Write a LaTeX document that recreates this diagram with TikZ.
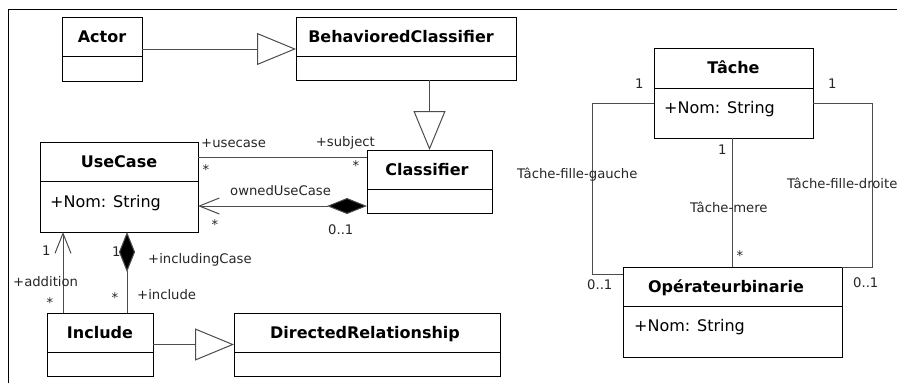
\documentclass[tikz,border=0pt]{standalone}
\usepackage{fontspec}
\setmainfont{DejaVu Sans}
\usetikzlibrary{arrows.meta}

\tikzset{
  klass/.style={draw=black, line width=1pt, inner sep=0pt, outer sep=0pt, fill=white},
  divider/.style={draw=black, line width=1pt},
  ktitle/.style={inner sep=0pt, anchor=base, font=\fontsize{16}{19}\selectfont\bfseries},
  kattr/.style={inner sep=0pt, anchor=base west, font=\fontsize{16}{19}\selectfont},
  role/.style={inner sep=0pt, anchor=base west, text=black!85, font=\fontsize{13.2}{15}\selectfont},
  mult/.style={inner sep=0pt, anchor=base, text=black!85, font=\fontsize{13.2}{15}\selectfont},
  link/.style={draw=black!70, line width=1pt},
  generalize/.style={link, -{Triangle[open, length=39pt, width=32pt, fill=white]}},
  barbtip/.tip={Straight Barb[length=20pt, width=16pt]},
  diamondtip/.tip={Diamond[length=40pt, width=16pt, fill=black]},
}

\begin{document}
\begin{tikzpicture}[x=1pt, y=-1pt]
\useasboundingbox (0,0) rectangle (897,383);
\fill[white] (0,0) rectangle (897,383);

% frame
\draw[black, line width=1pt] (8,383) -- (8,9) -- (897,9);

% classes
\node[klass, minimum width=80pt, minimum height=64pt] (actor) at (102,49) {};
\draw[divider] (actor.west |- 0,56) -- (actor.east |- 0,56);
\node[ktitle] (actorT) at (102,42.3) {Actor};

\node[klass, minimum width=220pt, minimum height=63pt] (bc) at (406,48.5) {};
\draw[divider] (bc.west |- 0,56) -- (bc.east |- 0,56);
\node[ktitle] (bcT) at (401,42.3) {BehavioredClassifier};

\node[klass, minimum width=158pt, minimum height=90pt] (uc) at (119,187) {};
\draw[divider] (uc.west |- 0,181) -- (uc.east |- 0,181);
\node[ktitle] (ucT) at (119,167.3) {UseCase};
\node[kattr] (ucA) at (50,207.8) {+Nom: String};

\node[klass, minimum width=125pt, minimum height=63pt] (cl) at (429.5,181.5) {};
\draw[divider] (cl.west |- 0,189) -- (cl.east |- 0,189);
\node[ktitle] (clT) at (427,175.3) {Classifier};

\node[klass, minimum width=106pt, minimum height=63pt] (inc) at (100,344.5) {};
\draw[divider] (inc.west |- 0,352) -- (inc.east |- 0,352);
\node[ktitle] (incT) at (100,338.3) {Include};

\node[klass, minimum width=266pt, minimum height=63pt] (dr) at (367,344.5) {};
\draw[divider] (dr.west |- 0,352) -- (dr.east |- 0,352);
\node[ktitle] (drT) at (365,338.3) {DirectedRelationship};

\node[klass, minimum width=159pt, minimum height=90pt] (tache) at (733.5,93) {};
\draw[divider] (tache.west |- 0,88) -- (tache.east |- 0,88);
\node[ktitle] (tacheT) at (733.5,73.8) {Tâche};
\node[kattr] (tacheA) at (664,113.8) {+Nom: String};

\node[klass, minimum width=219pt, minimum height=90pt] (op) at (732.5,312) {};
\draw[divider] (op.west |- 0,306) -- (op.east |- 0,306);
\node[ktitle] (opT) at (726,292.3) {Opérateurbinarie};
\node[kattr] (opA) at (634,331.8) {+Nom: String};

% generalizations
\draw[generalize] (actor.east) -- (bc.west |- actor.east);
\draw[generalize] (cl.north |- bc.south) -- (cl.north);
\draw[generalize] (inc.east) -- (dr.west |- inc.east);

% UseCase -- Classifier
\draw[link] (uc.east |- 0,157) -- (cl.west |- 0,157);
\draw[link, barbtip-diamondtip] (uc.east |- 0,206) -- (cl.west |- 0,206);

% Include -- UseCase
\draw[link, -barbtip] (inc.north -| 63,0) -- (uc.south -| 63,0);
\draw[link, -diamondtip] (inc.north -| 127,0) -- (uc.south -| 127,0);

% Tâche -- Opérateurbinarie
\draw[link] (tache.west |- 0,103) -- ++(-62,0) |- (op.west |- 0,274);
\draw[link] (tache.east |- 0,103) -- ++(59,0) |- (op.north east);
\draw[link] (tache.south -| 732,0) -- (op.north -| 732,0);

% association ends
\node[role] (r1) at (201,147.6) {+usecase};
\node[mult] (m1) at (206,174.5) {*};
\node[role, anchor=base east] (r2) at (375,146.6) {+subject};
\node[mult] (m2) at (356,170.5) {*};
\node[role] (r3) at (230,195) {ownedUseCase};
\node[mult] (m3) at (215,229.5) {*};
\node[role] (m4) at (328,234.7) {0..1};

\node[role] (m5) at (42,255.7) {1};
\node[role] (r4) at (13,286) {+addition};
\node[mult] (m6) at (50,307.5) {*};
\node[role] (m7) at (112,256.7) {1};
\node[role] (r5) at (148,263.6) {+includingCase};
\node[mult] (m8) at (115,302.5) {*};
\node[role] (r6) at (137,299) {+include};

\node[role] (m9) at (635,88.7) {1};
\node[role] (m10) at (828,88.7) {1};
\node[role] (r7) at (517,178.6) {Tâche-fille-gauche};
\node[role] (r8) at (787,188) {Tâche-fille-droite};
\node[role] (m11) at (718,154.7) {1};
\node[role] (r9) at (690,212) {Tâche-mere};
\node[mult] (m12) at (740,260.5) {*};
\node[role] (m13) at (587,289.7) {0..1};
\node[role] (m14) at (853,287.7) {0..1};
\end{tikzpicture}
\end{document}
